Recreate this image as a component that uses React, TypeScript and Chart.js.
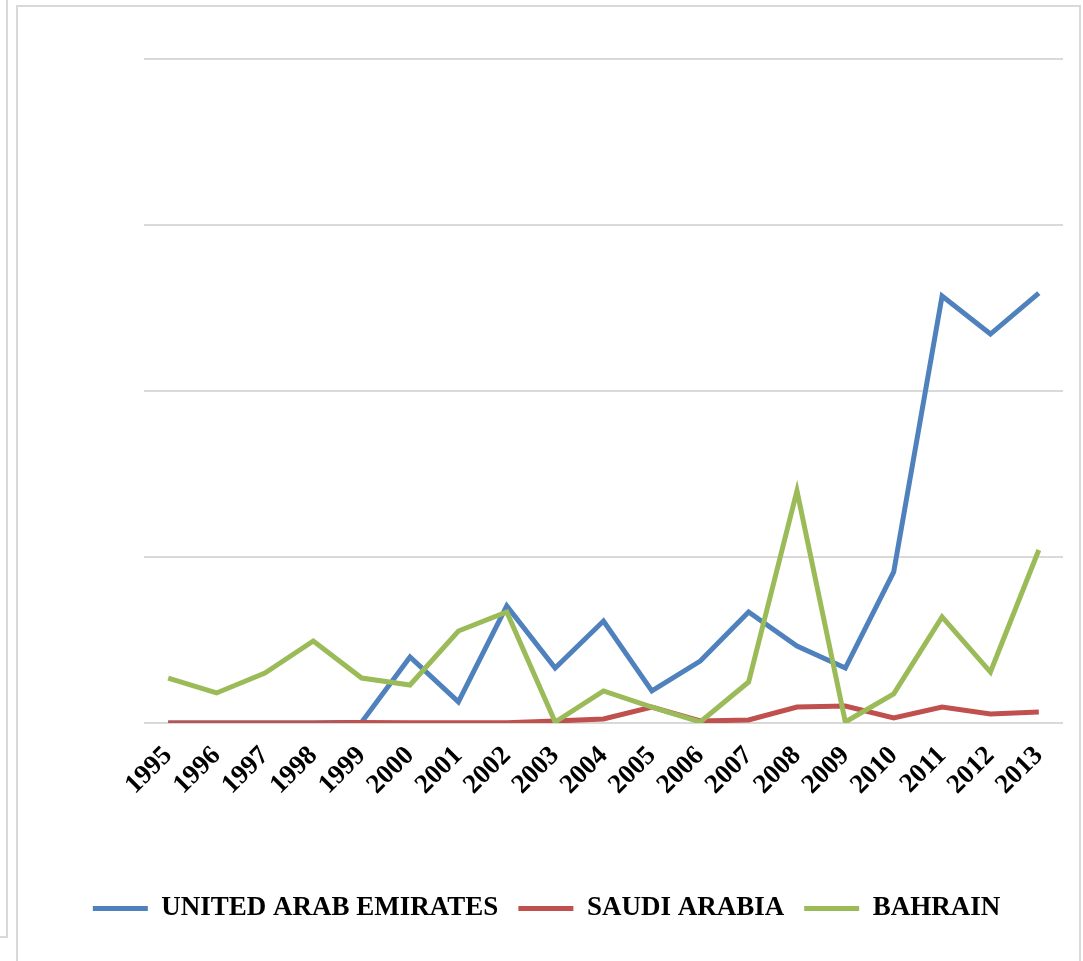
import React, { useEffect, useRef } from "react";
import { Chart, registerables } from "chart.js";

Chart.register(...registerables);

const years = ["1995","1996","1997","1998","1999","2000","2001","2002","2003","2004","2005","2006","2007","2008","2009","2010","2011","2012","2013"];
const uae = [0, 0, 0, 0, 0.5, 39.8, 12.7, 70.5, 33.1, 61.4, 19.3, 37.3, 66.9, 46.4, 33.1, 91, 257.2, 234.3, 259];
const saudi = [0, 0, 0, 0, 0.3, 0.2, 0.2, 0.2, 1.2, 2.4, 9.6, 1.2, 1.8, 9.6, 10.2, 3, 9.6, 5.4, 6.6];
const bahrain = [27.1, 18.1, 30.1, 49.4, 27.1, 22.9, 55.4, 66.9, 0.6, 19.3, 9.6, 0.6, 24.7, 139.8, 0.6, 17.5, 63.9, 30.7, 104.2];
const seriesNames = ["UNITED ARAB EMIRATES", "SAUDI ARABIA", "BAHRAIN"];
const seriesColors = ["#4f81bd", "#c0504d", "#9bbb59"];

export default function App() {
  const ref = useRef<HTMLCanvasElement | null>(null);
  useEffect(() => {
    if (!ref.current) return;
    const font = "'Liberation Serif', 'Times New Roman', serif";
    const chart = new Chart(ref.current, {
      type: "line",
      data: {
        labels: years,
        datasets: [uae, saudi, bahrain].map((d, i) => ({
          label: seriesNames[i],
          data: d,
          borderColor: seriesColors[i],
          backgroundColor: seriesColors[i],
          borderWidth: 5,
          pointRadius: 0,
          tension: 0,
          order: 3 - i,
        })),
      },
      options: {
        animation: false,
        responsive: false,
        layout: { padding: { left: 30, right: 20, top: 59, bottom: 29 } },
        scales: {
          x: {
            offset: true,
            grid: { display: false },
            border: { display: false },
            ticks: {
              minRotation: 45,
              maxRotation: 45,
              autoSkip: false,
              padding: 9,
              color: "#000",
              font: { family: font, size: 27, weight: "bold" },
            },
            afterFit: (s: any) => { s.height = 152; },
          },
          y: {
            min: 0,
            max: 400,
            ticks: { display: false, stepSize: 100 },
            border: { display: false },
            grid: { color: "#d9d9d9", lineWidth: 2, drawTicks: false },
            afterFit: (s: any) => { s.width = 114; },
          },
        },
        plugins: {
          tooltip: { enabled: false },
          legend: {
            position: "bottom",
            labels: {
              color: "#000",
              font: { family: font, size: 27, weight: "bold" },
              boxWidth: 55,
              boxHeight: 5,
              padding: 20,
              generateLabels: (c: any) =>
                c.data.datasets.map((ds: any, i: number) => ({
                  text: ds.label,
                  fillStyle: ds.borderColor,
                  strokeStyle: ds.borderColor,
                  lineWidth: 0,
                  datasetIndex: i,
                  hidden: false,
                  fontColor: "#000",
                })),
            },
          },
        },
      },
    });
    return () => chart.destroy();
  }, []);
  return (
    <div style={{ position: "absolute", left: 0, top: 0, width: 1083, height: 961, background: "#fff", overflow: "hidden" }}>
      <div style={{ position: "absolute", left: -10, top: -10, width: 16, height: 946, borderRight: "2px solid #d9d9d9", borderBottom: "2px solid #d9d9d9" }} />
      <div style={{ position: "absolute", left: 16, top: 5, width: 1061, height: 1000, border: "2px solid #d9d9d9" }} />
      <canvas ref={ref} width={1083} height={961} style={{ position: "absolute", left: 0, top: 0 }} />
    </div>
  );
}
